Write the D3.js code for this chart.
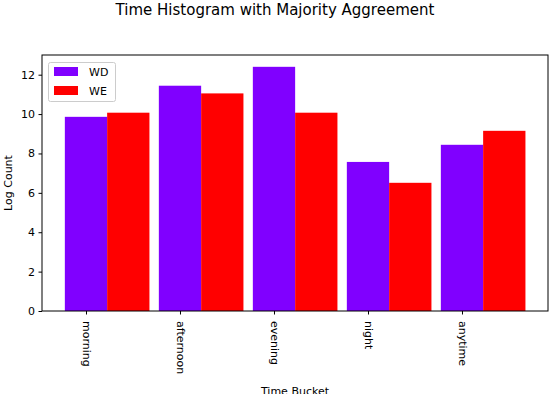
<!DOCTYPE html>
<html><head><meta charset="utf-8">
<script src="https://cdn.jsdelivr.net/npm/d3@7"></script>
<style>body{margin:0;background:#fff}svg{display:block}text{font-family:"DejaVu Sans",sans-serif;fill:#000}</style>
</head><body>
<svg id="c" width="550" height="394"></svg>
<script>
const categories = ["morning","afternoon","evening","night","anytime"];
const seriesNames = ["WD","WE"];
const wdValues = [9.86, 11.44, 12.4, 7.57, 8.44];
const weValues = [10.07, 11.05, 10.07, 6.51, 9.15];
const yTicks = [0,2,4,6,8,10,12];
const colors = ["#8000ff","#ff0000"];

const svg = d3.select("#c");
const L=42, R=548, T=55, B=311;
const barW = 0.45;
const x = d3.scaleLinear().domain([-0.468, 4.915]).range([L,R]);
const y = d3.scaleLinear().domain([0, 13.0]).range([B,T]);

const series = [wdValues, weValues];
series.forEach((vals, s) => {
  svg.append("g").selectAll("rect").data(vals).join("rect")
    .attr("x", (d,i)=> x(i + s*barW - barW/2))
    .attr("width", (d,i)=> x(i + s*barW + barW/2) - x(i + s*barW - barW/2))
    .attr("y", d=>y(d)).attr("height", d=>B-y(d))
    .attr("fill", colors[s]);
});

// frame
svg.append("rect").attr("x",L).attr("y",T).attr("width",R-L).attr("height",B-T)
  .attr("fill","none").attr("stroke","#000").attr("stroke-width",1);

// y axis
const ya = svg.append("g").attr("transform",`translate(${L},0)`)
  .call(d3.axisLeft(y).tickValues(yTicks).tickSize(3.5).tickPadding(3.5).tickFormat(d3.format("d")));
ya.select(".domain").remove();
ya.selectAll("text").style("font-size","11px").style("font-family","DejaVu Sans");

// x axis
const xa = svg.append("g").attr("transform",`translate(0,${B})`)
  .call(d3.axisBottom(x).tickValues(d3.range(categories.length)).tickSize(3.5).tickFormat(i=>categories[i]));
xa.select(".domain").remove();
xa.selectAll("text").style("font-size","11px").style("font-family","DejaVu Sans")
  .attr("transform","rotate(90)").attr("x",10).attr("y",0).attr("dy","0.35em")
  .style("text-anchor","start");

// labels
svg.append("text").attr("x",(L+R)/2).attr("y",395).attr("text-anchor","middle")
  .style("font-size","11px").text("Time Bucket");
svg.append("text").attr("transform",`translate(12,${(T+B)/2}) rotate(-90)`).attr("text-anchor","middle")
  .style("font-size","11px").text("Log Count");
svg.append("text").attr("x",275).attr("y",15).attr("text-anchor","middle")
  .style("font-size","15px").text("Time Histogram with Majority Aggreement");

// legend
const lg = svg.append("g");
lg.append("rect").attr("x",48.5).attr("y",62.5).attr("width",67).attr("height",39).attr("rx",2)
  .attr("fill","#fff").attr("fill-opacity",0.8).attr("stroke","#ccc");
seriesNames.forEach((n,i)=>{
  lg.append("rect").attr("x",54).attr("y",67+i*19).attr("width",24).attr("height",9).attr("fill",colors[i]);
  lg.append("text").attr("x",89).attr("y",76+i*19).style("font-size","11px").text(n);
});
</script>
</body></html>
